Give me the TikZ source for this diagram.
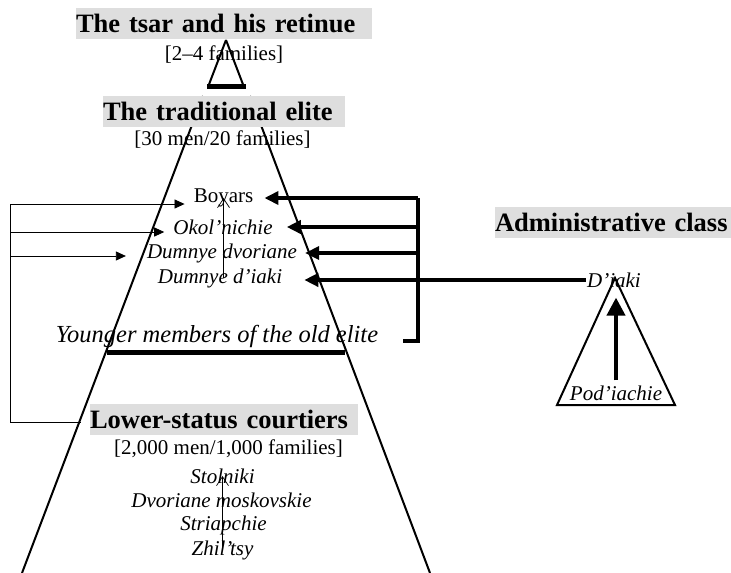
\documentclass[tikz,border=0pt]{standalone}
\usepackage{fontspec}
\setmainfont{Liberation Serif}
\usetikzlibrary{arrows.meta,calc}
\begin{document}
\begin{tikzpicture}[x=1pt,y=-1pt]
	\tikzstyle{titre}=[fill=black!13, inner sep=0pt, minimum height=31pt, align=left, font=\fontsize{26.5}{30}\selectfont\bfseries]
	\tikzstyle{texte}=[inner sep=1pt, font=\fontsize{21}{24}\selectfont]
	\tikzstyle{texte_it}=[inner sep=1pt, font=\fontsize{21}{24}\selectfont\itshape]
	\tikzstyle{cote}=[line width=2pt]
	\tikzstyle{fleche_fine}=[line width=0.8pt, -{Triangle[length=10pt,width=9pt]}]
	\tikzstyle{fleche_epaisse}=[line width=3.5pt, -{Triangle[length=14pt,width=13pt]}]
	\tikzstyle{fleche_ouverte}=[line width=0.7pt, -{Straight Barb[length=9pt,width=12pt]}]
	\useasboundingbox (0,0) rectangle (731,573);
	% pyramide
	\draw[cote] (226,40) -- (208,87) (226,40) -- (244,87);
	\draw[line width=5pt] (207,86) -- (246,86);
	\draw[cote] (203,96) -- (22,573) (250,96) -- (430,573);
	\draw[line width=5pt] (107,352) -- (345,352);
	\draw[cote] (615,278) -- (557,405) -- (675,405) -- cycle; % administration
	% textes
	\node[titre, text width=296pt] (tsar) at (224,23.5) {The tsar and his retinue};
	\node[texte] (tsar_nb) at (224,55) {[2–4 families]};
	\node[titre, text width=242pt] (elite) at (224,111) {The traditional elite};
	\node[texte] (elite_nb) at (222.5,140) {[30 men/20 families]};
	\node[texte] (boyars) at (223.5,198) {Boyars};
	\node[texte_it] (okol) at (223,227) {Okol’nichie};
	\node[texte_it] (dvoriane) at (222,253) {Dumnye dvoriane};
	\node[texte_it] (diaki_d) at (220,278) {Dumnye d’iaki};
	\node[texte_it, font=\fontsize{24.5}{28}\selectfont\itshape] (younger) at (217,336) {Younger members of the old elite};
	\node[titre, text width=268pt] (courtiers) at (224,419.5) {Lower-status courtiers};
	\node[texte] (courtiers_nb) at (228.5,449) {[2,000 men/1,000 families]};
	\node[texte_it] (stolniki) at (222.5,476) {Stolniki};
	\node[texte_it] (moskovskie) at (221.5,500) {Dvoriane moskovskie};
	\node[texte_it] (striapchie) at (223.5,525) {Striapchie};
	\node[texte_it] (zhiltsy) at (222.5,550) {Zhil’tsy};
	\node[titre, text width=236pt] (admin) at (613,222.5) {Administrative class};
	\node[texte_it] (diaki) at (614,280) {D’iaki};
	\node[texte_it] (podiachie) at (616,393) {Pod’iachie};
	% fleches internes
	\draw[fleche_ouverte] (boyars.center |- diaki_d.center) -- (boyars.center);
	\draw[fleche_ouverte] (stolniki.center |- zhiltsy.center) -- (stolniki.center);
	\draw[line width=4pt, -{Triangle[length=18pt,width=18pt]}, shorten <=4pt, shorten >=9pt] (podiachie.north) -- (podiachie.north |- diaki.south);
	% accolade gauche
	\coordinate (g) at (10,0);
	\draw[line width=0.8pt] ($(g |- boyars)+(0,6)$) -- ($(g |- courtiers)+(0,2.5)$) -- ($(courtiers.west)+(-9,2.5)$);
	\draw[fleche_fine] ($(g |- boyars)+(0,6)$) -- ($(boyars.west)+(-8,6)$);
	\draw[fleche_fine] ($(g |- okol)+(0,5)$) -- ($(okol.west)+(-8,5)$);
	\draw[fleche_fine] ($(g |- dvoriane)+(0,3)$) -- ($(dvoriane.west)+(-20,3)$);
	% accolade droite
	\coordinate (d) at (418,0);
	\draw[line width=3.5pt] (d |- boyars) -- ($(d |- younger)+(0,5)$) -- ($(younger.east)+(24,5)$);
	\draw[fleche_epaisse] (d |- boyars) -- ([xshift=10pt]boyars.east);
	\draw[fleche_epaisse] (d |- okol) -- ([xshift=13pt]okol.east);
	\draw[fleche_epaisse] (d |- dvoriane) -- ([xshift=7pt]dvoriane.east);
	\draw[fleche_epaisse] (diaki.west) -- ($(diaki_d.east |- diaki.west)+(21,0)$);
\end{tikzpicture}
\end{document}
